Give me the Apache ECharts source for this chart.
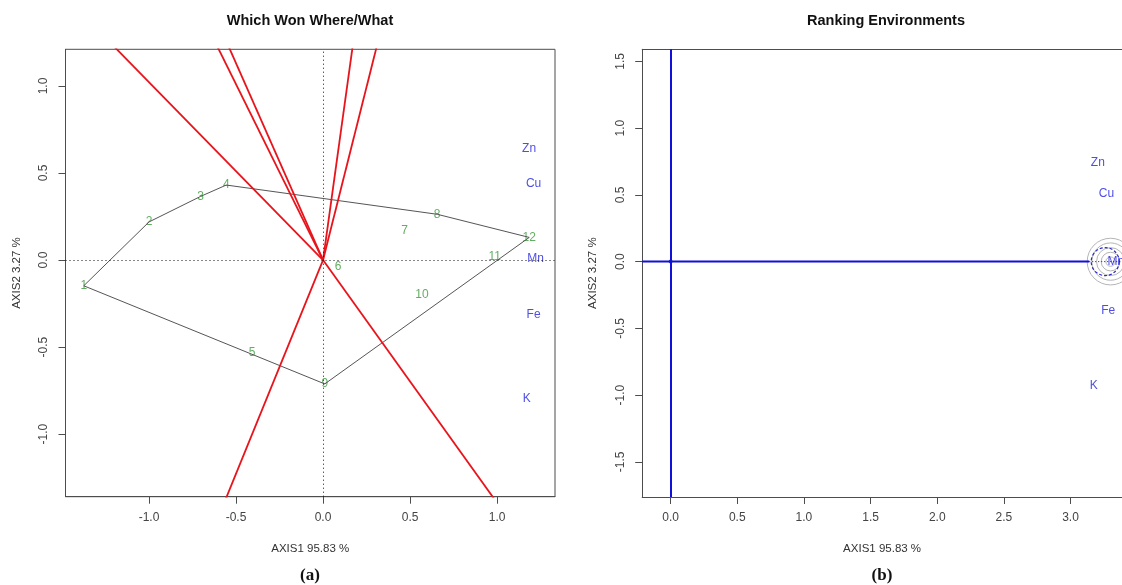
<!DOCTYPE html>
<html>
<head>
<meta charset="utf-8">
<title>GGE biplots</title>
<script src="https://cdn.jsdelivr.net/npm/echarts@6/dist/echarts.min.js"></script>
<style>
  html, body { margin: 0; padding: 0; background: #fff; }
  #chart { width: 1122px; height: 585px; }
</style>
</head>
<body>
<div id="chart"></div>
<script>
// ---- Genotype scores (panel a) ----
const genotypeNames = ['1', '2', '3', '4', '5', '6', '7', '8', '9', '10', '11', '12'];
const genotypeX = [-1.375, -1.0, -0.703, -0.556, -0.408, 0.087, 0.468, 0.656, 0.01, 0.568, 0.986, 1.185];
const genotypeY = [-0.148, 0.219, 0.366, 0.431, -0.533, -0.038, 0.168, 0.263, -0.712, -0.2, 0.019, 0.13];
// vertex genotypes of the convex hull, in drawing order
const hullOrder = ['1', '2', '3', '4', '8', '12', '9'];

// ---- Environment labels ----
const envNames = ['Zn', 'Cu', 'Mn', 'Fe', 'K'];
const envXA = [1.184, 1.21, 1.222, 1.21, 1.17];
const envYA = [0.642, 0.439, 0.006, -0.316, -0.799];
const envXB = [3.205, 3.27, 3.34, 3.283, 3.174];
const envYB = [0.742, 0.507, 0.0, -0.369, -0.931];

// ---- Ranking environments: average-environment axis and circles ----
const aecSolidEnd = 3.14;
const aecDottedEnd = 3.45;
const avgEnvPoint = [3.26, 0.0, 0.105];          // x, y, radius (dashed marker)
const rankCircleCenter = [3.30, 0.0];
const rankCircleRadii = [0.035, 0.07, 0.105, 0.14, 0.175];

// ---- Axis ranges and tick labels ----
const xRangeA = [-1.48, 1.333];
const yRangeA = [-1.36, 1.211];
const xRangeB = [-0.213, 3.386];
const yRangeB = [-1.763, 1.59];
const xTicksA = [-1.0, -0.5, 0.0, 0.5, 1.0];
const yTicksA = [-1.0, -0.5, 0.0, 0.5, 1.0];
const xTicksB = [0.0, 0.5, 1.0, 1.5, 2.0, 2.5, 3.0];
const yTicksB = [-1.5, -1.0, -0.5, 0.0, 0.5, 1.0, 1.5];

const xName = 'AXIS1 95.83 %';
const yName = 'AXIS2 3.27 %';

const FONT = 'Liberation Sans, Arial, sans-serif';
const BOX = '#4d4d4d';
const TICK_TXT = '#444';
const GREEN = '#3a9a3a';
const BLUE_TXT = '#2222e0';
const BLUE_LINE = '#1010d8';
const RED = '#e8141b';

const pointOf = name => {
  const i = genotypeNames.indexOf(name);
  return [genotypeX[i], genotypeY[i]];
};

// polygon through the hull vertices (closed)
const hullPts = hullOrder.map(pointOf);
const hullLine = hullPts.concat([hullPts[0]]);

// rays from the origin, perpendicular to each polygon side
const rays = hullPts.map((p, i) => {
  const q = hullPts[(i + 1) % hullPts.length];
  const dx = q[0] - p[0], dy = q[1] - p[1];
  const t = -(p[0] * dx + p[1] * dy) / (dx * dx + dy * dy);
  const fx = p[0] + t * dx, fy = p[1] + t * dy;
  const len = Math.hypot(fx, fy);
  const L = 6;
  return [[0, 0], [fx / len * L, fy / len * L]];
});

function valueAxis(range, ticks, gridIndex, isX, name) {
  return {
    type: 'value',
    gridIndex: gridIndex,
    position: isX ? 'bottom' : 'left',
    min: range[0],
    max: range[1],
    name: name,
    nameLocation: 'middle',
    nameGap: isX ? 46 : 43,
    nameTextStyle: { fontFamily: FONT, fontSize: 11.5, color: '#333' },
    splitLine: { show: false },
    axisLine: { show: true, onZero: false, lineStyle: { color: BOX, width: 1 } },
    axisTick: { show: true, inside: false, length: 7, lineStyle: { color: BOX, width: 1 }, customValues: ticks },
    axisLabel: {
      show: true,
      customValues: ticks,
      fontFamily: FONT,
      fontSize: 12,
      color: TICK_TXT,
      margin: isX ? 15 : 16,
      rotate: isX ? 0 : 90,
      formatter: v => Number(v).toFixed(1)
    }
  };
}

// a bare frame line along the top of a panel
function topFrame(range, gridIndex) {
  return {
    type: 'value', gridIndex: gridIndex, position: 'top',
    min: range[0], max: range[1],
    splitLine: { show: false },
    axisLine: { show: true, onZero: false, lineStyle: { color: BOX, width: 1 } },
    axisTick: { show: false },
    axisLabel: { show: false }
  };
}

const series = [];

// panel (a): dotted reference lines through the origin
series.push({
  type: 'line', xAxisIndex: 0, yAxisIndex: 0, data: [], silent: true,
  markLine: {
    symbol: 'none', silent: true, animation: false,
    label: { show: false },
    lineStyle: { color: '#111', width: 1, type: [1, 3] },
    data: [{ xAxis: 0 }, { yAxis: 0 }]
  }
});

// panel (a): hull polygon
series.push({
  type: 'line', xAxisIndex: 0, yAxisIndex: 0, data: hullLine,
  symbol: 'none', silent: true,
  lineStyle: { color: '#555', width: 1 }
});

// panel (a): sector rays
rays.forEach(r => series.push({
  type: 'line', xAxisIndex: 0, yAxisIndex: 0, data: r,
  symbol: 'none', silent: true, clip: true,
  lineStyle: { color: RED, width: 1.8 }
}));

// text-only marker series
function labelSeries(xi, yi, names, xs, ys, color) {
  return {
    type: 'scatter', xAxisIndex: xi, yAxisIndex: yi, silent: true,
    symbol: 'circle', symbolSize: 1,
    itemStyle: { color: 'rgba(0,0,0,0)' },
    label: {
      show: true, position: 'inside', formatter: p => p.name,
      fontFamily: FONT, fontSize: 12, color: color
    },
    data: names.map((n, i) => ({ name: n, value: [xs[i], ys[i]] }))
  };
}

series.push(labelSeries(0, 0, genotypeNames, genotypeX, genotypeY, GREEN));
series.push(labelSeries(0, 0, envNames, envXA, envYA, BLUE_TXT));

// panel (b): concentric ranking circles
series.push({
  type: 'custom', xAxisIndex: 1, yAxisIndex: 1, silent: true,
  data: rankCircleRadii.map(r => [rankCircleCenter[0], rankCircleCenter[1], r]),
  renderItem: (params, api) => {
    const c = api.coord([api.value(0), api.value(1)]);
    const s = api.size([api.value(2), api.value(2)]);
    return {
      type: 'circle',
      shape: { cx: c[0], cy: c[1], r: s[0] },
      style: { fill: 'none', stroke: '#b5b5b5', lineWidth: 1 }
    };
  }
});

// panel (b): dashed marker circle at the average environment
series.push({
  type: 'custom', xAxisIndex: 1, yAxisIndex: 1, silent: true,
  data: [avgEnvPoint],
  renderItem: (params, api) => {
    const c = api.coord([api.value(0), api.value(1)]);
    const s = api.size([api.value(2), api.value(2)]);
    return {
      type: 'circle',
      shape: { cx: c[0], cy: c[1], r: s[0] },
      style: { fill: 'none', stroke: '#2a2ac8', lineWidth: 1.2, lineDash: [3, 2] }
    };
  }
});

// panel (b): vertical axis through the origin
series.push({
  type: 'line', xAxisIndex: 1, yAxisIndex: 1, data: [], silent: true,
  markLine: {
    symbol: 'none', silent: true, animation: false,
    label: { show: false },
    lineStyle: { color: BLUE_LINE, width: 2, type: 'solid' },
    data: [{ xAxis: 0 }]
  }
});

// panel (b): average-environment axis
series.push({
  type: 'line', xAxisIndex: 1, yAxisIndex: 1, silent: true, symbol: 'none',
  data: [[xRangeB[0], 0], [aecSolidEnd, 0]],
  lineStyle: { color: BLUE_LINE, width: 2 }
});
series.push({
  type: 'line', xAxisIndex: 1, yAxisIndex: 1, silent: true, symbol: 'none',
  data: [[aecSolidEnd, 0], [aecDottedEnd, 0]],
  lineStyle: { color: BLUE_LINE, width: 1, type: [1, 2] }
});

// panel (b): origin point
series.push({
  type: 'scatter', xAxisIndex: 1, yAxisIndex: 1, silent: true,
  symbol: 'circle', symbolSize: 4,
  itemStyle: { color: '#0a0aa0' },
  data: [[0, 0]]
});

series.push(labelSeries(1, 1, envNames, envXB, envYB, BLUE_TXT));

const option = {
  animation: false,
  backgroundColor: '#ffffff',
  grid: [
    { left: 65.5, top: 49.3, width: 489.5, height: 447.4, show: true, borderColor: BOX, borderWidth: 1, backgroundColor: 'transparent', containLabel: false },
    { left: 642.2, top: 49.3, width: 480.5, height: 447.7, show: false, containLabel: false }
  ],
  xAxis: [
    valueAxis(xRangeA, xTicksA, 0, true, xName),
    valueAxis(xRangeB, xTicksB, 1, true, xName),
    topFrame(xRangeB, 1)
  ],
  yAxis: [
    valueAxis(yRangeA, yTicksA, 0, false, yName),
    valueAxis(yRangeB, yTicksB, 1, false, yName)
  ],
  graphic: [
    { type: 'text', x: 310, y: 21, silent: true,
      style: { text: 'Which Won Where/What', align: 'center', verticalAlign: 'middle',
               font: 'bold 14.5px ' + FONT, fill: '#111' } },
    { type: 'text', x: 886, y: 21, silent: true,
      style: { text: 'Ranking Environments', align: 'center', verticalAlign: 'middle',
               font: 'bold 14.5px ' + FONT, fill: '#111' } },
    { type: 'text', x: 310, y: 576, silent: true,
      style: { text: '(a)', align: 'center', verticalAlign: 'middle',
               font: 'bold 17px "Liberation Serif", "Times New Roman", serif', fill: '#111' } },
    { type: 'text', x: 882, y: 576, silent: true,
      style: { text: '(b)', align: 'center', verticalAlign: 'middle',
               font: 'bold 17px "Liberation Serif", "Times New Roman", serif', fill: '#111' } }
  ],
  series: series
};

const chart = echarts.init(document.getElementById('chart'), null, { renderer: 'canvas' });
chart.setOption(option);
</script>
</body>
</html>
